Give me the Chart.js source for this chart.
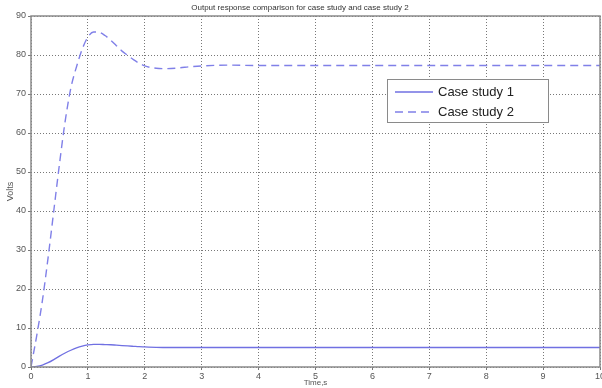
<!DOCTYPE html>
<html>
<head>
<meta charset="utf-8">
<script src="https://cdn.jsdelivr.net/npm/chart.js@4/dist/chart.umd.min.js"></script>
<style>
  html, body { margin: 0; padding: 0; background: #fff; }
  #wrap { width: 602px; height: 388px; }
</style>
</head>
<body>
<div id="wrap"><canvas id="chart" width="602" height="388"></canvas></div>
<script>
// ─── data ─────────────────────────────────────────────────────────────────
const timeS = [0, 0.1, 0.2, 0.3, 0.4, 0.5, 0.6, 0.7, 0.8, 0.9, 1.0, 1.1, 1.2, 1.3, 1.4, 1.5,
               1.6, 1.7, 1.8, 1.9, 2.0, 2.2, 2.4, 2.6, 2.8, 3.0, 3.5, 4, 5, 6, 7, 8, 9, 10];
const caseStudy1 = [0, 0.15, 0.5, 1.1, 1.9, 2.8, 3.6, 4.3, 4.9, 5.35, 5.65, 5.8, 5.8, 5.75, 5.7, 5.6,
                    5.5, 5.4, 5.3, 5.2, 5.15, 5.05, 5.0, 5.0, 5.0, 5.0, 5.0, 5.0, 5.0, 5.0, 5.0, 5.0, 5.0, 5.0];
const caseStudy2 = [0, 8, 17, 28, 40, 52, 63, 71.5, 77, 81.5, 84.6, 85.9, 85.8, 85.0, 83.8, 82.4,
                    81.0, 79.9, 78.8, 77.9, 77.2, 76.6, 76.5, 76.7, 77.0, 77.2, 77.4, 77.3, 77.3, 77.3, 77.3, 77.3, 77.3, 77.3];
const seriesNames = ['Case study 1', 'Case study 2'];
const xTicks = [0, 1, 2, 3, 4, 5, 6, 7, 8, 9, 10];
const yTicks = [0, 10, 20, 30, 40, 50, 60, 70, 80, 90];

const LINE = 'rgb(112,112,226)';
const LINE2 = 'rgb(128,128,232)';
const TXT = '#555';
const FONT = '"Liberation Sans", Arial, sans-serif';

// box round the plot area + legend inside it, MATLAB style
const boxAndLegend = {
    id: 'boxAndLegend',
    afterDatasetsDraw(chart) {
        const { ctx, chartArea: a } = chart;
        ctx.save();
        ctx.strokeStyle = '#8a8a8a';
        ctx.lineWidth = 1.5;
        ctx.strokeRect(a.left, a.top, a.right - a.left, a.bottom - a.top);

        // legend
        const lx = 387, ly = 79, lw = 161, lh = 43;
        ctx.fillStyle = '#fff';
        ctx.fillRect(lx, ly, lw, lh);
        ctx.strokeStyle = '#8a8a8a';
        ctx.lineWidth = 1;
        ctx.strokeRect(lx + 0.5, ly + 0.5, lw, lh);
        ctx.font = '13px ' + FONT;
        ctx.textBaseline = 'middle';
        chart.data.datasets.forEach((ds, i) => {
            const y = ly + 13 + i * 20;
            ctx.strokeStyle = ds.borderColor;
            ctx.lineWidth = 1.3;
            ctx.setLineDash(ds.borderDash || []);
            ctx.beginPath();
            ctx.moveTo(lx + 8, y);
            ctx.lineTo(lx + 46, y);
            ctx.stroke();
            ctx.setLineDash([]);
            ctx.fillStyle = '#222';
            ctx.fillText(ds.label, lx + 51, y);
        });
        ctx.restore();
    }
};

const toPoints = vals => timeS.map((t, i) => ({ x: t, y: vals[i] }));

new Chart(document.getElementById('chart'), {
    type: 'line',
    data: {
        datasets: [
            { label: seriesNames[0], data: toPoints(caseStudy1), borderColor: LINE, borderWidth: 1.3,
              pointRadius: 0, cubicInterpolationMode: 'monotone', fill: false },
            { label: seriesNames[1], data: toPoints(caseStudy2), borderColor: LINE2, borderWidth: 1.4,
              borderDash: [8, 5], pointRadius: 0, cubicInterpolationMode: 'monotone', fill: false }
        ]
    },
    options: {
        responsive: false,
        animation: false,
        devicePixelRatio: 1,
        layout: { padding: { left: 0, right: 2, top: 0, bottom: 0 } },
        plugins: {
            legend: { display: false },
            tooltip: { enabled: false },
            title: {
                display: true,
                text: 'Output response comparison for case study and case study 2',
                color: '#333',
                font: { family: FONT, size: 8, weight: 'normal' },
                padding: { top: 3, bottom: 3.4 }
            }
        },
        scales: {
            x: {
                type: 'linear', min: 0, max: 10,
                afterBuildTicks: s => { s.ticks = xTicks.map(v => ({ value: v })); },
                afterFit: s => { s.height = 21; s.paddingLeft = 0; s.paddingRight = 0; },
                ticks: { color: TXT, font: { family: FONT, size: 9 }, padding: 1, maxRotation: 0 },
                grid: { color: '#555', lineWidth: 0.8, tickLength: 3, drawTicks: true },
                border: { display: false, dash: [1, 2] },
                title: { display: true, text: 'Time,s', color: TXT, font: { family: FONT, size: 8 }, padding: { top: 2, bottom: 0 } }
            },
            y: {
                min: 0, max: 90,
                afterBuildTicks: s => { s.ticks = yTicks.map(v => ({ value: v })); },
                afterFit: s => { s.width = 31; s.paddingTop = 0; s.paddingBottom = 0; },
                ticks: { color: TXT, font: { family: FONT, size: 9 }, padding: 2 },
                grid: { color: '#555', lineWidth: 0.8, tickLength: 3 },
                border: { display: false, dash: [1, 2] },
                title: { display: true, text: 'Volts', color: TXT, font: { family: FONT, size: 9 }, padding: { top: 5, bottom: 0 } }
            }
        }
    },
    plugins: [boxAndLegend]
});
</script>
</body>
</html>
